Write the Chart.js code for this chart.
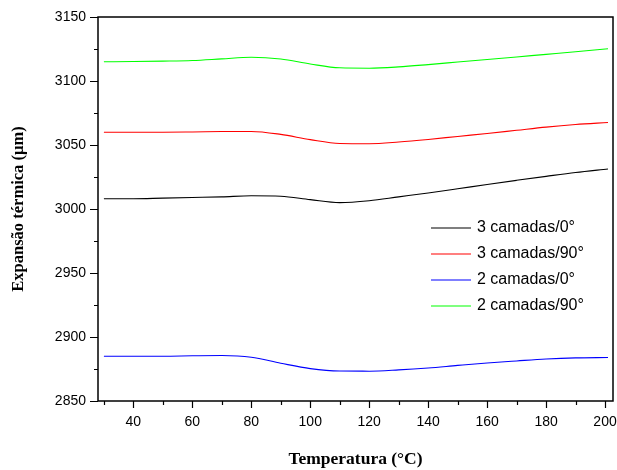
<!DOCTYPE html>
<html>
<head>
    <title>Expansao termica</title>
    <script src="https://cdn.jsdelivr.net/npm/chart.js@4.4.0/dist/chart.umd.min.js"></script>
    <style>
        body { margin: 0; background: #fff; }
        #box { width: 617px; height: 470px; }
    </style>
</head>
<body>
<div id="box"><canvas id="lineChart"></canvas></div>
<script>
    // temperatura (C)
    var temperatura = [30, 40, 50, 60, 70, 80, 90, 100, 110, 120, 130, 140, 150, 160, 170, 180, 190, 201];
    // expansao (um) por serie
    var camadas3_0  = [3008, 3008, 3008.5, 3009, 3009.5, 3010.3, 3010, 3007.3, 3005, 3006.5, 3009.5, 3012.5, 3015.8, 3019.2, 3022.4, 3025.5, 3028.5, 3031.3];
    var camadas3_90 = [3060, 3060, 3060, 3060.2, 3060.5, 3060.6, 3058.3, 3054.2, 3051.2, 3051, 3052.3, 3054.3, 3056.7, 3059, 3061.5, 3064, 3066, 3067.6];
    var camadas2_0  = [2885, 2885, 2885, 2885.3, 2885.5, 2884.2, 2879.5, 2875.3, 2873.4, 2873.3, 2874.3, 2875.8, 2877.8, 2879.7, 2881.3, 2882.8, 2883.7, 2884];
    var camadas2_90 = [3115, 3115.2, 3115.5, 3116, 3117.3, 3118.6, 3117.2, 3113.3, 3110.3, 3110, 3111, 3112.8, 3114.8, 3116.8, 3118.8, 3120.8, 3122.8, 3125.2];
    var rotulos = ['3 camadas/0\u00B0', '3 camadas/90\u00B0', '2 camadas/0\u00B0', '2 camadas/90\u00B0'];
    var cores = ['#000000', '#ff0000', '#0000ff', '#00ff00'];
    var ticksX = [40, 60, 80, 100, 120, 140, 160, 180, 200];
    var ticksY = [2850, 2900, 2950, 3000, 3050, 3100, 3150];

    function pontos(ys) {
        var p = [];
        for (var i = 0; i < temperatura.length; i++) p.push({x: temperatura[i], y: ys[i]});
        return p;
    }

    // moldura, marcas e legenda dentro do grafico
    var moldura = {
        id: 'moldura',
        afterDraw: function(chart) {
            var ctx = chart.ctx, a = chart.chartArea;
            var sx = chart.scales.x, sy = chart.scales.y;
            ctx.save();
            ctx.strokeStyle = '#000';
            ctx.lineWidth = 1.5;
            ctx.strokeRect(a.left, a.top, a.right - a.left, a.bottom - a.top);
            ctx.lineWidth = 1.2;
            ctx.beginPath();
            for (var v = 30; v <= 200; v += 10) {
                var px = Math.round(sx.getPixelForValue(v)) + 0.5;
                var len = (v % 20 == 0) ? 7 : 4;
                ctx.moveTo(px, a.bottom); ctx.lineTo(px, a.bottom + len);
            }
            for (var w = 2850; w <= 3150; w += 25) {
                var py = Math.round(sy.getPixelForValue(w)) + 0.5;
                var l2 = (w % 50 == 0) ? 8 : 4;
                ctx.moveTo(a.left, py); ctx.lineTo(a.left - l2, py);
            }
            ctx.stroke();
            // legenda
            ctx.font = '16px "Liberation Sans", Arial, sans-serif';
            ctx.textBaseline = 'middle';
            ctx.fillStyle = '#000';
            chart.data.datasets.forEach(function(ds, i) {
                var y = 228 + i * 26;
                ctx.strokeStyle = ds.borderColor;
                ctx.lineWidth = 1.2;
                ctx.beginPath();
                ctx.moveTo(431, y); ctx.lineTo(471, y);
                ctx.stroke();
                ctx.fillText(ds.label, 477, y);
            });
            ctx.restore();
        }
    };

    var ds = [camadas3_0, camadas3_90, camadas2_0, camadas2_90].map(function(s, i) {
        return {
            label: rotulos[i],
            data: pontos(s),
            borderColor: cores[i],
            borderWidth: 1.1,
            pointRadius: 0,
            cubicInterpolationMode: 'monotone',
            fill: false
        };
    });

    var ctxL = document.getElementById('lineChart').getContext('2d');
    var myLineChart = new Chart(ctxL, {
        type: 'line',
        data: { datasets: ds },
        options: {
            responsive: true,
            maintainAspectRatio: false,
            animation: false,
            layout: { padding: { left: 0, right: 4, top: 17, bottom: 0 } },
            plugins: { legend: { display: false }, tooltip: { enabled: false } },
            scales: {
                x: {
                    type: 'linear',
                    min: 28,
                    max: 202.7,
                    grid: { display: false, drawTicks: false },
                    border: { display: false },
                    afterBuildTicks: function(s) { s.ticks = ticksX.map(function(v) { return {value: v}; }); },
                    afterFit: function(s) { s.height = 69; s.paddingLeft = 0; s.paddingRight = 0; },
                    ticks: {
                        padding: 13,
                        color: '#000',
                        maxRotation: 0,
                        callback: function(v) { return String(v); },
                        font: { family: '"Liberation Sans", Arial, sans-serif', size: 14 }
                    },
                    title: {
                        display: true,
                        text: 'Temperatura (\u00B0C)',
                        color: '#000',
                        padding: { top: 0, bottom: 0 },
                        font: { family: '"Liberation Serif", "Times New Roman", serif', size: 17.5, weight: 'bold' }
                    }
                },
                y: {
                    min: 2850,
                    max: 3150,
                    grid: { display: false, drawTicks: false },
                    border: { display: false },
                    afterBuildTicks: function(s) { s.ticks = ticksY.map(function(v) { return {value: v}; }); },
                    afterFit: function(s) { s.width = 98; s.paddingTop = 0; s.paddingBottom = 0; },
                    ticks: {
                        padding: 12,
                        color: '#000',
                        callback: function(v) { return String(v); },
                        font: { family: '"Liberation Sans", Arial, sans-serif', size: 14 }
                    },
                    title: {
                        display: true,
                        text: 'Expans\u00E3o t\u00E9rmica (\u00B5m)',
                        color: '#000',
                        padding: { top: 9, bottom: 0 },
                        font: { family: '"Liberation Serif", "Times New Roman", serif', size: 16.5, weight: 'bold' }
                    }
                }
            }
        },
        plugins: [moldura]
    });
</script>
</body>
</html>
